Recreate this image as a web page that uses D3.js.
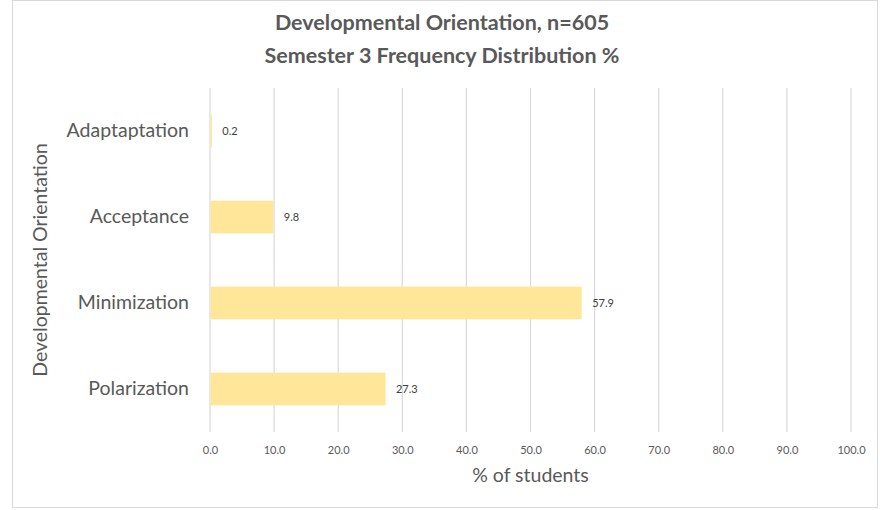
<!DOCTYPE html>
<html>
<head>
<meta charset="utf-8">
<script src="https://cdn.jsdelivr.net/npm/d3@7"></script>
<style>
  body { margin: 0; background: #fff; }
  svg { display: block; font-family: Lato, "Open Sans", sans-serif; }
</style>
</head>
<body>
<svg id="chart" width="889" height="510"></svg>
<script>
// data
const categories = ['Adaptaptation', 'Acceptance', 'Minimization', 'Polarization'];
const percents = [0.2, 9.8, 57.9, 27.3];
const tickValues = [0, 10, 20, 30, 40, 50, 60, 70, 80, 90, 100];
const titleLines = ['Developmental Orientation, n=605', 'Semester 3 Frequency Distribution %'];

const svg = d3.select('#chart');
const W = 889, H = 510;
const m = { top: 88, right: 38, bottom: 78, left: 210 };
const iw = W - m.left - m.right, ih = H - m.top - m.bottom;
const textCol = '#595959';

// outer chart frame
svg.append('rect')
  .attr('x', 12.5).attr('y', 0.5)
  .attr('width', 865).attr('height', 507)
  .attr('fill', '#fff').attr('stroke', '#d9d9d9');

svg.append('g').selectAll('text')
  .data(titleLines)
  .join('text')
  .attr('x', 442).attr('y', (d, i) => 30 + i * 33)
  .attr('text-anchor', 'middle')
  .attr('font-size', 21.5).attr('font-weight', 700)
  .attr('fill', textCol)
  .text(d => d);

const g = svg.append('g').attr('transform', `translate(${m.left},${m.top})`);

const x = d3.scaleLinear().domain([0, 100]).range([0, iw]);
const y = d3.scaleBand().domain(categories).range([0, ih]).paddingInner(0.62).paddingOuter(0.31);

// gridlines
g.append('g').selectAll('line')
  .data(tickValues)
  .join('line')
  .attr('x1', d => x(d)).attr('x2', d => x(d))
  .attr('y1', 0).attr('y2', ih)
  .attr('stroke', '#d9d9d9').attr('stroke-width', 1.2);

// x axis tick labels
const xAxis = g.append('g')
  .attr('transform', `translate(0,${ih})`)
  .call(d3.axisBottom(x).tickValues(tickValues).tickFormat(d3.format('.1f')).tickSize(0).tickPadding(14));
xAxis.select('.domain').remove();
xAxis.selectAll('text')
  .attr('font-family', 'Lato, sans-serif')
  .attr('font-size', 11).attr('fill', textCol);

// y axis category labels
const yAxis = g.append('g')
  .call(d3.axisLeft(y).tickSize(0).tickPadding(21));
yAxis.select('.domain').remove();
yAxis.selectAll('text')
  .attr('font-family', 'Lato, sans-serif')
  .attr('font-size', 19.5).attr('fill', textCol);

const rows = categories.map((c, i) => ({ cat: c, v: percents[i] }));

g.append('g').selectAll('rect')
  .data(rows)
  .join('rect')
  .attr('x', x(0) + 0.5)
  .attr('y', d => y(d.cat))
  .attr('width', d => Math.max(1.5, x(d.v) - x(0)))
  .attr('height', y.bandwidth())
  .attr('fill', '#ffe699');

g.append('g').selectAll('text')
  .data(rows)
  .join('text')
  .attr('x', d => x(d.v) + 11)
  .attr('y', d => y(d.cat) + y.bandwidth() / 2)
  .attr('dy', '0.35em')
  .attr('font-size', 11)
  .attr('fill', '#404040')
  .text(d => d.v.toFixed(1));

// axis titles
svg.append('text')
  .attr('x', m.left + iw / 2).attr('y', 482)
  .attr('text-anchor', 'middle')
  .attr('font-size', 19.5).attr('fill', textCol)
  .text('% of students');

svg.append('text')
  .attr('transform', `translate(47,${m.top + ih / 2}) rotate(-90)`)
  .attr('text-anchor', 'middle')
  .attr('font-size', 19.5).attr('fill', textCol)
  .text('Developmental Orientation');
</script>
</body>
</html>
